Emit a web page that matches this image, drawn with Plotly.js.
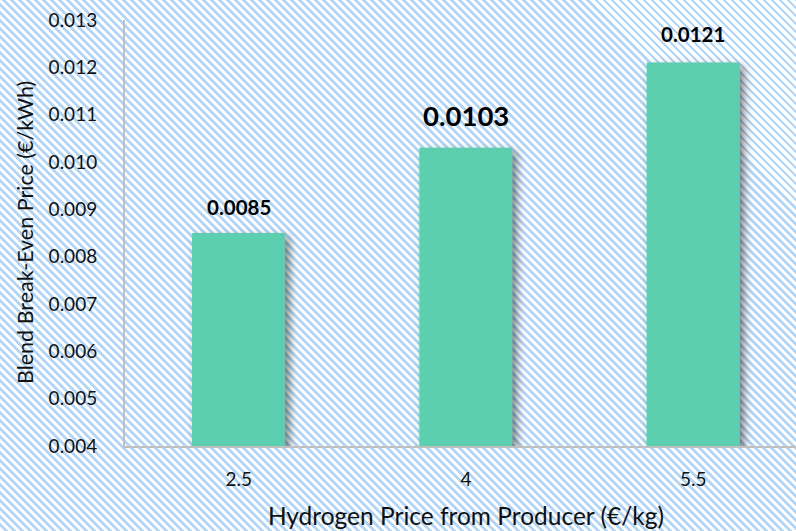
<!DOCTYPE html>
<html>
<head>
<meta charset="utf-8">
<script src="https://cdn.plot.ly/plotly-3.0.1.min.js"></script>
<style>
  html, body { margin: 0; padding: 0; background: #ffffff; overflow: hidden; }
  #wrap {
    width: 796px;
    height: 531px;
    overflow: hidden;
    /* light blue diagonal hatch behind the whole chart */
    background-color: #ffffff;
    background-image: repeating-linear-gradient(45deg,
      #ffffff 0px, #ffffff 3.1px,
      #b3d6f6 3.1px, #b3d6f6 5.66px);
  }
  #chart { width: 807px; height: 531px; }
  .trace.bars .point path {
    filter: drop-shadow(4px 4px 4px rgba(0, 0, 0, 0.5));
  }
</style>
</head>
<body>
<div id="wrap"><div id="chart"></div></div>
<script>
// Hydrogen price from producer (€/kg)
const hydrogenPrices = ['2.5', '4', '5.5'];
// Blend break-even price (€/kWh)
const breakEvenPrices = [0.0085, 0.0103, 0.0121];
// value label size and lift above each bar
const labelSizes = [20.5, 27.5, 20.5];
const labelShift = [26, 32, 29];

const fontFamily = 'Lato, "Open Sans", sans-serif';
const textColor = '#111111';
const axisColor = '#bfbfbf';

const trace = {
  type: 'bar',
  x: hydrogenPrices,
  y: breakEvenPrices,
  width: 0.41,
  marker: { color: '#5dcfb1', line: { width: 0 } },
  hoverinfo: 'x+y'
};

// category axes place annotations by category index
const annotations = hydrogenPrices.map((p, i) => ({
  x: i,
  y: breakEvenPrices[i],
  xref: 'x',
  yref: 'y',
  text: breakEvenPrices[i].toFixed(4),
  showarrow: false,
  xanchor: 'center',
  yanchor: 'middle',
  yshift: labelShift[i],
  font: { family: fontFamily, size: labelSizes[i], color: '#000000', weight: 'bold' }
}));

// vertical axis title, centred on the plot height
annotations.push({
  xref: 'paper',
  yref: 'paper',
  x: 0,
  y: 0.5,
  xanchor: 'center',
  yanchor: 'middle',
  xshift: -100,
  textangle: -90,
  text: 'Blend Break-Even Price (€/kWh)',
  showarrow: false,
  font: { family: fontFamily, size: 21.5, color: textColor }
});

const layout = {
  width: 807,
  height: 531,
  margin: { l: 125, r: 0, t: 20, b: 85, pad: 0 },
  paper_bgcolor: 'rgba(0,0,0,0)',
  plot_bgcolor: 'rgba(0,0,0,0)',
  showlegend: false,
  font: { family: fontFamily, color: textColor },
  xaxis: {
    type: 'category',
    range: [-0.5, 2.5],
    showline: true,
    linecolor: axisColor,
    linewidth: 2,
    showgrid: false,
    zeroline: false,
    ticks: '',
    ticklabelstandoff: 15,
    tickfont: { family: fontFamily, size: 19, color: textColor },
    title: {
      text: 'Hydrogen Price from Producer (€/kg)',
      font: { family: fontFamily, size: 24.5, color: textColor },
      standoff: 19
    },
    automargin: false
  },
  yaxis: {
    range: [0.004, 0.013],
    dtick: 0.001,
    tick0: 0.004,
    tickformat: '.3f',
    showline: true,
    linecolor: axisColor,
    linewidth: 2,
    showgrid: false,
    zeroline: false,
    ticks: '',
    ticklabelstandoff: 22,
    tickfont: { family: fontFamily, size: 19, color: textColor },
    automargin: false
  },
  annotations: annotations
};

Plotly.newPlot('chart', [trace], layout, { displayModeBar: false, staticPlot: true });
</script>
</body>
</html>
